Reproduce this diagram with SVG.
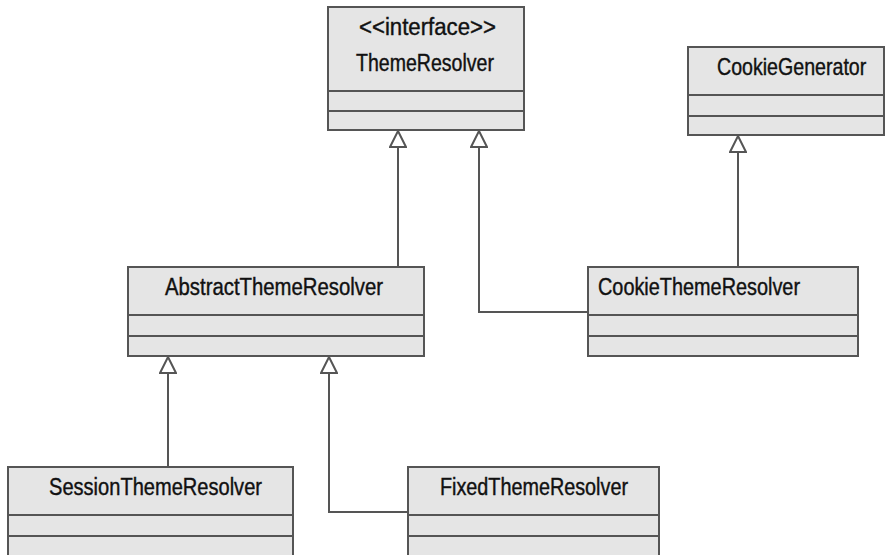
<svg xmlns="http://www.w3.org/2000/svg" width="886" height="555" viewBox="0 0 886 555">
  <style>
    .box { fill: #e5e5e5; stroke: #555555; stroke-width: 2; }
    .sep { stroke: #555555; stroke-width: 2; fill: none; }
    .edge { stroke: #555555; stroke-width: 2; fill: none; }
    .lbl { font-family: "Liberation Sans", Arial, sans-serif; font-size: 23px; fill: #111111; stroke: #111111; stroke-width: 0.4; }
  </style>
  <defs>
    <!-- hollow triangle for generalization -->
    <marker id="gen" viewBox="0 0 18 18" refX="9" refY="1" markerWidth="18" markerHeight="18" markerUnits="userSpaceOnUse" orient="0">
      <path d="M9 1 L17 17 L1 17 Z" fill="#ffffff" stroke="#555555" stroke-width="2" stroke-linejoin="miter"/>
    </marker>
  </defs>

  <rect width="886" height="555" fill="#ffffff"/>

  <g id="connectors">
    <!-- AbstractThemeResolver -> ThemeResolver -->
    <path class="edge" d="M398 267 L398 131" marker-end="url(#gen)"/>
    <!-- CookieThemeResolver -> ThemeResolver -->
    <path class="edge" d="M588 312 L479 312 L479 131" marker-end="url(#gen)"/>
    <!-- CookieThemeResolver -> CookieGenerator -->
    <path class="edge" d="M738 267 L738 136" marker-end="url(#gen)"/>
    <!-- SessionThemeResolver -> AbstractThemeResolver -->
    <path class="edge" d="M168 467 L168 357" marker-end="url(#gen)"/>
    <!-- FixedThemeResolver -> AbstractThemeResolver -->
    <path class="edge" d="M408 512 L329 512 L329 357" marker-end="url(#gen)"/>
  </g>

  <g id="ThemeResolver">
    <rect class="box" x="328" y="7" width="196" height="123"/>
    <line class="sep" x1="328" y1="91" x2="524" y2="91"/>
    <line class="sep" x1="328" y1="111" x2="524" y2="111"/>
    <text class="lbl" x="359" y="35" textLength="137" lengthAdjust="spacingAndGlyphs">&lt;&lt;interface&gt;&gt;</text>
    <text class="lbl" x="356" y="71" textLength="138" lengthAdjust="spacingAndGlyphs">ThemeResolver</text>
  </g>

  <g id="CookieGenerator">
    <rect class="box" x="688" y="47" width="196" height="88"/>
    <line class="sep" x1="688" y1="95" x2="884" y2="95"/>
    <line class="sep" x1="688" y1="116" x2="884" y2="116"/>
    <text class="lbl" transform="translate(717 75) scale(0.853 1)" x="0" y="0">CookieGenerator</text>
  </g>

  <g id="AbstractThemeResolver">
    <rect class="box" x="128" y="267" width="296" height="89"/>
    <line class="sep" x1="128" y1="315" x2="424" y2="315"/>
    <line class="sep" x1="128" y1="336" x2="424" y2="336"/>
    <text class="lbl" x="165" y="295" textLength="218" lengthAdjust="spacingAndGlyphs">AbstractThemeResolver</text>
  </g>

  <g id="CookieThemeResolver">
    <rect class="box" x="588" y="267" width="270" height="89"/>
    <line class="sep" x1="588" y1="315" x2="858" y2="315"/>
    <line class="sep" x1="588" y1="336" x2="858" y2="336"/>
    <text class="lbl" x="598" y="295" textLength="202" lengthAdjust="spacingAndGlyphs">CookieThemeResolver</text>
  </g>

  <g id="SessionThemeResolver">
    <rect class="box" x="8" y="467" width="285" height="90"/>
    <line class="sep" x1="8" y1="515" x2="293" y2="515"/>
    <line class="sep" x1="8" y1="536" x2="293" y2="536"/>
    <text class="lbl" x="49" y="495" textLength="213" lengthAdjust="spacingAndGlyphs">SessionThemeResolver</text>
  </g>

  <g id="FixedThemeResolver">
    <rect class="box" x="408" y="467" width="251" height="90"/>
    <line class="sep" x1="408" y1="515" x2="659" y2="515"/>
    <line class="sep" x1="408" y1="536" x2="659" y2="536"/>
    <text class="lbl" x="440" y="495" textLength="188" lengthAdjust="spacingAndGlyphs">FixedThemeResolver</text>
  </g>
</svg>
